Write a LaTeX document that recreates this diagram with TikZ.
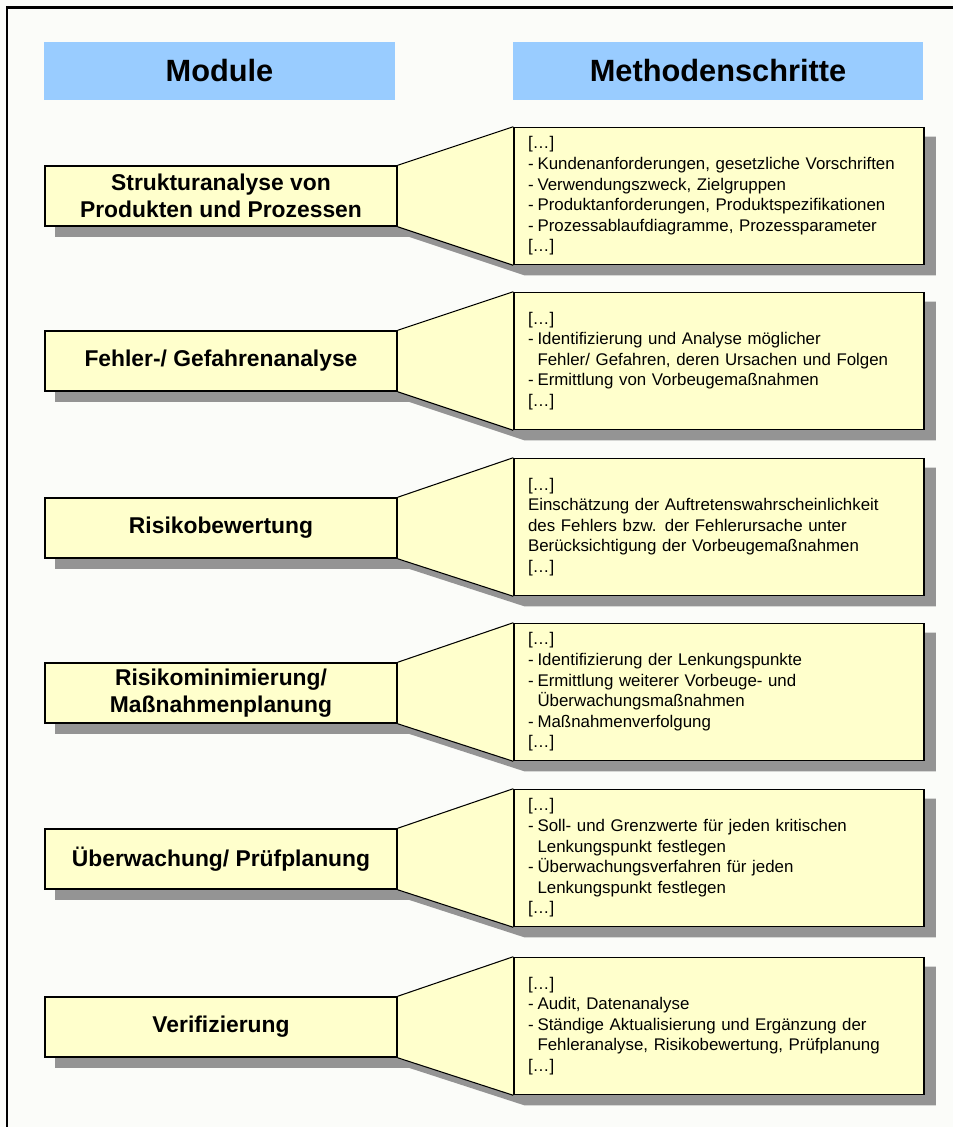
\documentclass[tikz,border=0pt]{standalone}
\usepackage{fontspec}
\setmainfont{Liberation Sans}
\usetikzlibrary{calc,backgrounds}
\definecolor{headblue}{RGB}{153,204,255}
\definecolor{noteyellow}{RGB}{255,255,204}
\definecolor{shadegray}{RGB}{148,148,148}
\definecolor{paper}{RGB}{251,252,249}
\newcommand{\stpdash}{\makebox[0.19cm][l]{-}}
\newcommand{\stpind}{\hspace*{0.19cm}}
\newcommand{\stpmore}{[\ldots]}
\begin{document}
\begin{tikzpicture}[x=0.02cm,y=-0.02cm,
    head/.style={fill=headblue,minimum height=1.16cm,
      font=\fontsize{17.5}{20}\selectfont\bfseries},
    modbox/.style={draw,line width=0.9pt,fill=noteyellow,minimum width=7.04cm,
      minimum height=1.2cm,align=center,font=\fontsize{13}{15.3}\selectfont\bfseries},
    stepbox/.style={draw,line width=0.9pt,fill=noteyellow,text width=7.64cm,
      inner xsep=0.28cm,minimum height=2.74cm,align=left,
      font=\fontsize{9.6}{11.7}\selectfont}]
  \useasboundingbox (0,0) rectangle (953,1127);

  % headers
  \node[head,minimum width=7.02cm] (hmod) at (219.5,71) {Module};
  \node[head,minimum width=8.2cm] (hstep) at (718,71) {Methodenschritte};

  % modules
  \node[modbox] (m1) at (221,196) {Strukturanalyse von\\Produkten und Prozessen};
  \node[modbox] (m2) at (221,361) {Fehler-/ Gefahrenanalyse};
  \node[modbox] (m3) at (221,528) {Risikobewertung};
  \node[modbox] (m4) at (221,693) {Risikominimierung/\\Maßnahmenplanung};
  \node[modbox] (m5) at (221,859) {Überwachung/ Prüfplanung};
  \node[modbox] (m6) at (221,1027) {Verifizierung};

  % method steps
  \node[stepbox] (s1) at (719,196) {\stpmore\\
    \stpdash Kundenanforderungen, gesetzliche Vorschriften\\
    \stpdash Verwendungszweck, Zielgruppen\\
    \stpdash Produktanforderungen, Produktspezifikationen\\
    \stpdash Prozessablaufdiagramme, Prozessparameter\\
    \stpmore};
  \node[stepbox] (s2) at (719,361) {\stpmore\\
    \stpdash Identifizierung und Analyse möglicher\\
    \stpind Fehler/ Gefahren, deren Ursachen und Folgen\\
    \stpdash Ermittlung von Vorbeugemaßnahmen\\
    \stpmore};
  \node[stepbox] (s3) at (719,527) {\stpmore\\
    Einschätzung der Auftretenswahrscheinlichkeit\\
    des Fehlers bzw. der Fehlerursache unter\\
    Berücksichtigung der Vorbeugemaßnahmen\\
    \stpmore};
  \node[stepbox] (s4) at (719,692) {\stpmore\\
    \stpdash Identifizierung der Lenkungspunkte\\
    \stpdash Ermittlung weiterer Vorbeuge- und\\
    \stpind Überwachungsmaßnahmen\\
    \stpdash Maßnahmenverfolgung\\
    \stpmore};
  \node[stepbox] (s5) at (719,858) {\stpmore\\
    \stpdash Soll- und Grenzwerte für jeden kritischen\\
    \stpind Lenkungspunkt festlegen\\
    \stpdash Überwachungsverfahren für jeden\\
    \stpind Lenkungspunkt festlegen\\
    \stpmore};
  \node[stepbox] (s6) at (719,1026) {\stpmore\\
    \stpdash Audit, Datenanalyse\\
    \stpdash Ständige Aktualisierung und Ergänzung der\\
    \stpind Fehleranalyse, Risikobewertung, Prüfplanung\\
    \stpmore};

  \begin{pgfonlayer}{background}
    \fill[paper] (0,0) rectangle (953,1127);
    % shadows, then the funnels
    \foreach \i in {1,...,6} {
      \fill[shadegray] ($(m\i.north west)+(11,10)$) -- ($(m\i.north east)+(11,10)$)
        -- ($(s\i.north west)+(11,10)$) -- ($(s\i.north east)+(11,10)$)
        -- ($(s\i.south east)+(11,10)$) -- ($(s\i.south west)+(11,10)$)
        -- ($(m\i.south east)+(11,10)$) -- ($(m\i.south west)+(11,10)$) -- cycle;
      \fill[noteyellow] (m\i.north east) -- (s\i.north west)
        -- (s\i.south west) -- (m\i.south east) -- cycle;
      \draw[line width=0.6pt] (m\i.north east) -- (s\i.north west);
      \draw[line width=0.6pt] (m\i.south east) -- (s\i.south west);
    }
  \end{pgfonlayer}

  % frame
  \draw[line width=1.7pt] (6,7) -- (953,7);
  \draw[line width=1.7pt] (7,6) -- (7,1127);
\end{tikzpicture}
\end{document}
